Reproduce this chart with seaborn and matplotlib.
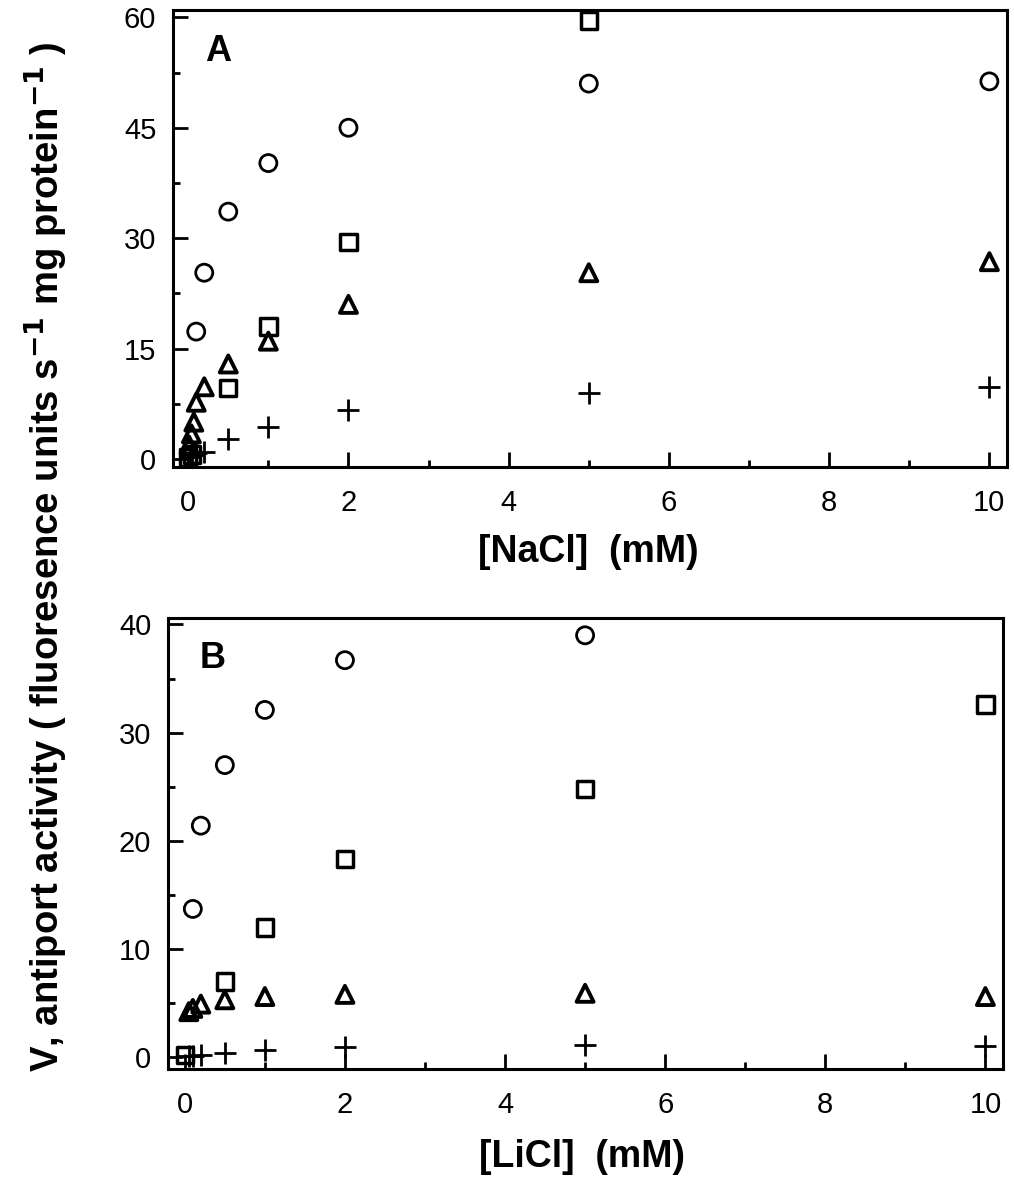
import numpy as np
import matplotlib
matplotlib.use("Agg")
import matplotlib.pyplot as plt
import seaborn as sns
from matplotlib.ticker import MultipleLocator

# Panel A: NaCl
na_circle_x = [0.1, 0.2, 0.5, 1, 2, 5, 10]
na_circle_y = [17.3, 25.3, 33.6, 40.2, 45.0, 51.0, 51.3]
na_square_x = [0, 0.05, 0.5, 1, 2, 5]
na_square_y = [0.2, 0.6, 9.6, 18.0, 29.5, 59.6]
na_tri_x = [0.01, 0.04, 0.07, 0.1, 0.2, 0.5, 1, 2, 5, 10]
na_tri_y = [1.9, 3.4, 5.0, 7.7, 9.8, 12.9, 16.0, 21.0, 25.3, 26.8]
na_plus_x = [0.02, 0.05, 0.1, 0.2, 0.5, 1, 2, 5, 10]
na_plus_y = [0.2, 0.5, 0.8, 1.0, 2.7, 4.4, 6.7, 9.0, 9.8]

# Panel B: LiCl
li_circle_x = [0.1, 0.2, 0.5, 1, 2, 5]
li_circle_y = [13.7, 21.4, 27.0, 32.1, 36.7, 39.0]
li_square_x = [0, 0.5, 1, 2, 5, 10]
li_square_y = [0.2, 7.0, 12.0, 18.3, 24.8, 32.6]
li_tri_x = [0.05, 0.1, 0.2, 0.5, 1, 2, 5, 10]
li_tri_y = [4.2, 4.5, 4.9, 5.3, 5.6, 5.8, 5.9, 5.6]
li_plus_x = [0.05, 0.1, 0.2, 0.5, 1, 2, 5, 10]
li_plus_y = [0.1, 0.1, 0.2, 0.4, 0.7, 0.9, 1.1, 1.0]

sns.set_style("ticks")
plt.rcParams['font.family'] = ['Liberation Sans', 'DejaVu Sans']
for key in ['text.color', 'axes.labelcolor', 'xtick.color', 'ytick.color', 'axes.edgecolor']:
    plt.rcParams[key] = 'black'
narrow = ['Liberation Sans Narrow', 'Liberation Sans', 'DejaVu Sans']

fig = plt.figure(figsize=(10.14, 11.83), dpi=100)
ax_a = fig.add_axes([173 / 1014, 1 - 467 / 1183, 834 / 1014, 457 / 1183])
ax_b = fig.add_axes([168 / 1014, 1 - 1069 / 1183, 835 / 1014, 451 / 1183])


def draw_panel(ax, series):
    for xs, ys, marker, size, lw in series:
        if marker == '+':
            sns.scatterplot(x=xs, y=ys, ax=ax, marker='+', s=size, color='black',
                            linewidth=lw, zorder=3)
        else:
            sns.scatterplot(x=xs, y=ys, ax=ax, marker=marker, s=size, facecolor='none',
                            edgecolor='black', linewidth=lw, zorder=3)


draw_panel(ax_a, [
    (na_circle_x, na_circle_y, 'o', 150, 2.0),
    (na_square_x, na_square_y, 's', 140, 2.5),
    (na_tri_x, na_tri_y, '^', 150, 2.8),
    (na_plus_x, na_plus_y, '+', 260, 2.0),
])
draw_panel(ax_b, [
    (li_circle_x, li_circle_y, 'o', 150, 2.0),
    (li_square_x, li_square_y, 's', 140, 2.5),
    (li_tri_x, li_tri_y, '^', 150, 2.8),
    (li_plus_x, li_plus_y, '+', 260, 2.0),
])

ax_a.set_xlim(-0.19, 10.22)
ax_a.set_ylim(-1.1, 61.0)
ax_a.yaxis.set_major_locator(MultipleLocator(15))
ax_a.yaxis.set_minor_locator(MultipleLocator(7.5))

ax_b.set_xlim(-0.21, 10.22)
ax_b.set_ylim(-1.1, 40.6)
ax_b.yaxis.set_major_locator(MultipleLocator(10))
ax_b.yaxis.set_minor_locator(MultipleLocator(5))

for ax, letter in [(ax_a, 'A'), (ax_b, 'B')]:
    ax.xaxis.set_major_locator(MultipleLocator(2))
    ax.xaxis.set_minor_locator(MultipleLocator(1))
    ax.tick_params(which='major', direction='in', length=11, width=2, labelsize=21,
                   top=False, right=False)
    ax.tick_params(which='minor', direction='in', length=5, width=2,
                   top=False, right=False)
    ax.tick_params(axis='y', which='major', pad=12)
    ax.tick_params(axis='x', which='major', pad=16)
    for sp in ax.spines.values():
        sp.set_linewidth(2.2)
        sp.set_visible(True)
    ax.set_xlabel('')
    ax.set_ylabel('')
    ax.text(0.054, 0.91, letter, transform=ax.transAxes, fontsize=26,
            fontweight='bold', ha='center', va='center')

fig.text(588 / 1014, 1 - 552 / 1183, '[NaCl]  (mM)', family=narrow, fontsize=27,
         fontweight='bold', ha='center', va='center')
fig.text(582 / 1014, 1 - 1157 / 1183, '[LiCl]  (mM)', family=narrow, fontsize=27,
         fontweight='bold', ha='center', va='center')
fig.text(46 / 1014, 1 - 557 / 1183,
         'V, antiport activity ( fluoresence units s$^{\\mathbf{-1}}$ mg protein$^{\\mathbf{-1}}$ )',
         family=narrow, fontsize=27.5, fontweight='bold', rotation=90,
         ha='center', va='center')

fig.savefig('out.png', dpi=100)
